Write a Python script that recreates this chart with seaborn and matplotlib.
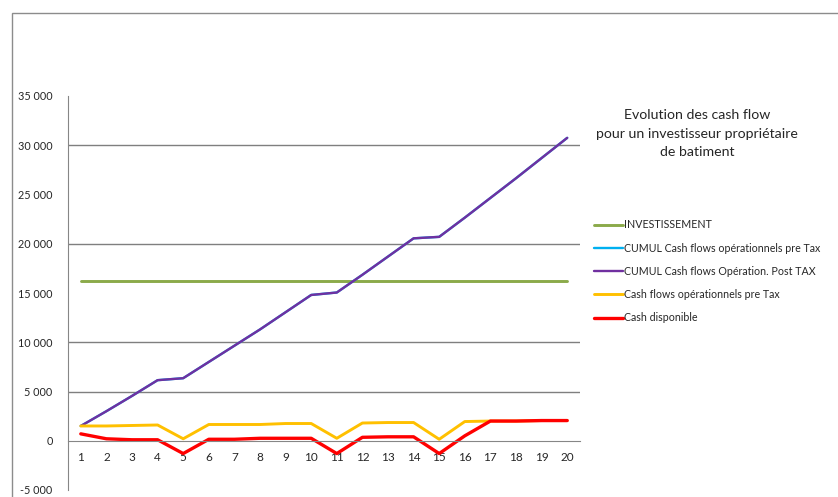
import numpy as np
import pandas as pd
import matplotlib
matplotlib.use("Agg")
import matplotlib.pyplot as plt
import matplotlib.ticker as mticker
from matplotlib.patches import Rectangle
import seaborn as sns

# data
years = list(range(1, 21))
investissement = [16200] * 20
cumul_pre_tax = [1500, 3000, 4550, 6150, 6350, 8000, 9650, 11300, 13050, 14800,
                 15050, 16850, 18700, 20550, 20700, 22650, 24650, 26650, 28700, 30750]
cumul_post_tax = [1500, 3000, 4550, 6150, 6350, 8000, 9650, 11300, 13050, 14800,
                  15050, 16850, 18700, 20550, 20700, 22650, 24650, 26650, 28700, 30750]
cash_flow_pre_tax = [1500, 1500, 1550, 1600, 200, 1650, 1650, 1650, 1750, 1750,
                     250, 1800, 1850, 1850, 150, 1950, 2000, 2000, 2050, 2050]
cash_dispo = [700, 200, 100, 100, -1300, 150, 150, 250, 250, 250,
              -1300, 350, 400, 400, -1300, 500, 2000, 2000, 2050, 2050]

labels = ["INVESTISSEMENT",
          "CUMUL Cash flows opérationnels pre Tax",
          "CUMUL Cash flows Opération. Post TAX",
          "Cash flows opérationnels pre Tax",
          "Cash disponible"]
title_txt = "Evolution des cash flow\npour un investisseur propriétaire\nde batiment"
grid_levels = [5000, 10000, 20000, 30000]

sns.set_style("white")
plt.rcParams["font.family"] = ["Lato", "DejaVu Sans"]

fig = plt.figure(figsize=(8.38, 4.97), dpi=100)
ax = fig.add_axes([68 / 838, 1 - 490 / 497, 512 / 838, 394 / 497])

# chart area frame (cropped on right/bottom in the original)
fig.patches.append(Rectangle((12 / 838, -0.1), 1.2, 1 - 13 / 497 + 0.1,
                             transform=fig.transFigure, fill=False,
                             edgecolor="#8c8c8c", linewidth=1.0))

for lvl in grid_levels:
    ax.axhline(lvl, color="#7f7f7f", linewidth=1.0, zorder=0)

series = [investissement, cumul_pre_tax, cumul_post_tax, cash_flow_pre_tax, cash_dispo]
colors = ["#8BAA4A", "#00B0F0", "#7030A0", "#FFC000", "#FF0000"]
widths = [2.1, 1.7, 1.7, 2.1, 2.4]
for vals, lab, col, lw in zip(series, labels, colors, widths):
    sns.lineplot(x=years, y=vals, ax=ax, color=col, linewidth=lw, label=lab)

ax.set_xlim(0.5, 20.5)
ax.set_ylim(-5000, 35000)
ax.yaxis.set_major_locator(mticker.MultipleLocator(5000))
ax.yaxis.set_major_formatter(mticker.FuncFormatter(
    lambda v, p: f"{int(v):,}".replace(",", " ")))
ax.set_xticks(years)
ax.set_xticklabels([str(y) for y in years])
ax.xaxis.set_minor_locator(mticker.FixedLocator(np.arange(1.5, 20.5, 1)))

for s in ["top", "right"]:
    ax.spines[s].set_visible(False)
ax.spines["bottom"].set_position(("data", 0))
ax.spines["bottom"].set_color("#868686")
ax.spines["left"].set_color("#868686")
ax.tick_params(axis="x", which="major", length=0, pad=8, labelsize=8.5, colors="#262626")
ax.tick_params(axis="x", which="minor", length=4, color="#a0a0a0", direction="out")
ax.tick_params(axis="y", length=3, color="#868686", pad=8, labelsize=7.8, colors="#262626")
ax.set_xlabel("")
ax.set_ylabel("")

ax.legend(loc="upper left", bbox_to_anchor=(590 / 838, 1 - 215 / 497),
          bbox_transform=fig.transFigure, frameon=False, fontsize=7.7,
          handlelength=2.7, handletextpad=0.1, labelspacing=1.15, borderaxespad=0)

fig.text(697 / 838, 1 - 109 / 497, title_txt, ha="center", va="top",
         fontsize=10.2, linespacing=1.65, color="#262626")

fig.savefig("out.png", dpi=100)
